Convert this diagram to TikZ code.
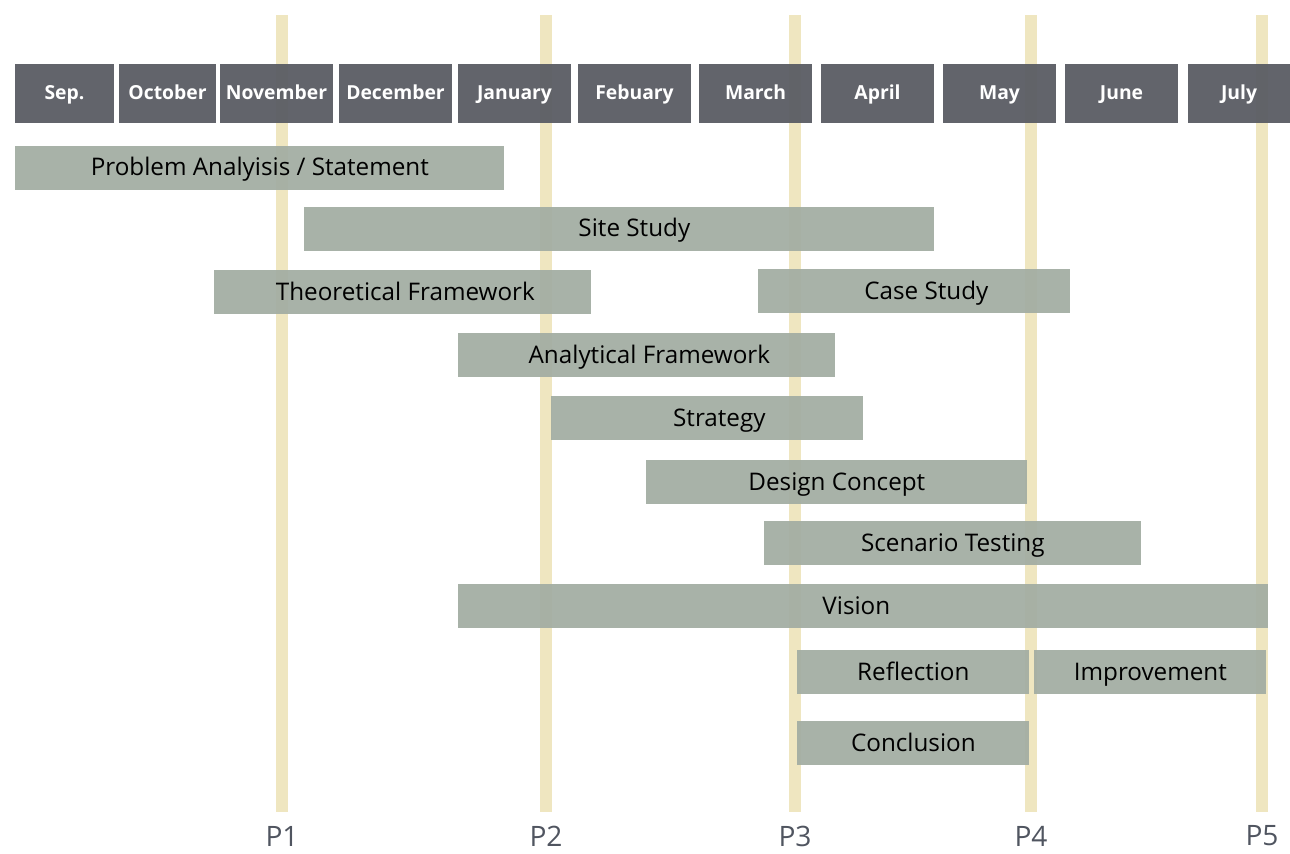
\documentclass[tikz,border=0pt]{standalone}
\usepackage{fontspec}
\setmainfont{Open Sans}
\usetikzlibrary{positioning,calc}

\definecolor{monthgray}{HTML}{5C5E65}
\definecolor{taskgreen}{HTML}{A3ADA3}
\definecolor{phaseyellow}{HTML}{EFE6C0}
\definecolor{phasetext}{HTML}{505560}

\tikzset{
  month/.style={fill=monthgray, fill opacity=0.96, text opacity=1, text=white,
    font=\fontsize{11}{13}\selectfont\bfseries, minimum height=1.18cm, inner sep=0pt,
    text height=0.85em, text depth=0.15em},
  task/.style={fill=taskgreen, fill opacity=0.94, text opacity=1, text=black,
    font=\fontsize{13.8}{16}\selectfont, minimum height=0.87cm, inner sep=0pt, anchor=north west,
    text height=1em, text depth=0.1em},
  milestone/.style={draw=phaseyellow, line width=0.24cm},
  phase/.style={text=phasetext, font=\fontsize{16}{18}\selectfont, inner sep=0pt}
}

\begin{document}
\begin{tikzpicture}[x=0.02cm, y=-0.02cm]
    \useasboundingbox (0,0) rectangle (1290,854);

    % Milestones
    \foreach \px [count=\i] in {282,546,795,1031,1262} {
        \coordinate (top\i) at (\px,15);
        \coordinate (bot\i) at (\px,812);
        \draw[milestone] (top\i) -- (bot\i);
        \node[phase] (p\i) at (\px,836) {P\i};
    }

    % Months
    \foreach \xa/\xb/\mon [count=\i] in {15/114/Sep., 119/216/October, 220/333/November,
        339/452/December, 458/571/January, 578/691/Febuary, 699/812/March,
        821/934/April, 943/1056/May, 1065/1178/June, 1188/1290/July} {
        \node[month, minimum width={(\xb-\xa)*0.02cm}] (m\i) at ({(\xa+\xb)/2},93.5) {\mon};
    }

    % Tasks
    \node[task, minimum width={489*0.02cm}] (problem) at (15,146) {Problem Analyisis / Statement};
    \node[task, minimum width={630*0.02cm}] (site) at (304,207) {\hspace*{0.6cm}Site Study};
    \node[task, minimum width={377*0.02cm}] (theory) at (214,270) {\hspace*{0.1cm}Theoretical Framework};
    \node[task, minimum width={312*0.02cm}] (case) at (758,269) {\hspace*{0.48cm}Case Study};
    \node[task, minimum width={377*0.02cm}] (analytic) at (458,333) {\hspace*{0.1cm}Analytical Framework};
    \node[task, minimum width={312*0.02cm}] (strategy) at (551,396) {\hspace*{0.48cm}Strategy};
    \node[task, minimum width={381*0.02cm}] (concept) at (646,460) {Design Concept};
    \node[task, minimum width={377*0.02cm}] (scenario) at (764,521) {Scenario Testing};
    \node[task, minimum width={810*0.02cm}] (vision) at (458,584) {Vision\hspace*{0.28cm}};
    \node[task, minimum width={232*0.02cm}] (reflect) at (797,650) {Reflection};
    \node[task, minimum width={232*0.02cm}] (improve) at (1034,650) {Improvement};
    \node[task, minimum width={232*0.02cm}] (conclude) at (797,721) {Conclusion};

\end{tikzpicture}
\end{document}
